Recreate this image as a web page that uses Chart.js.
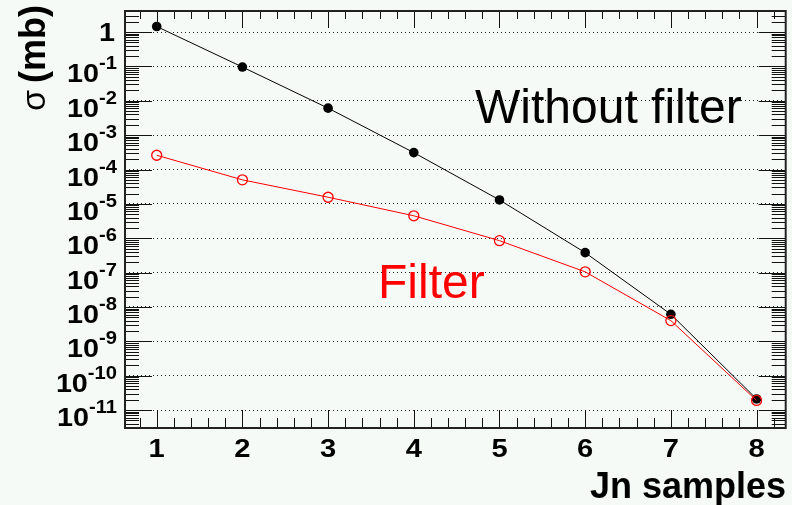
<!DOCTYPE html>
<html>
<head>
<meta charset="utf-8">
<script src="https://cdn.jsdelivr.net/npm/chart.js@4/dist/chart.umd.min.js"></script>
<style>
  html, body { margin: 0; padding: 0; background: #f6faf7; }
  canvas { display: block; }
</style>
</head>
<body>
<canvas id="chart" width="792" height="505"></canvas>
<script>
// Number of Jn samples on the x axis
const samples = [1, 2, 3, 4, 5, 6, 7, 8];
// Cross section in mb, without the filter
const withoutFilter = [1.45, 0.096, 6.1e-3, 3.1e-4, 1.3e-5, 3.8e-7, 6.1e-9, 2.1e-11];
// Cross section in mb, with the filter
const withFilter = [2.6e-4, 5.0e-5, 1.56e-5, 4.5e-6, 8.5e-7, 1.05e-7, 4.0e-9, 1.9e-11];
// Decade exponents labelled on the y axis
const decadeExponents = [0, -1, -2, -3, -4, -5, -6, -7, -8, -9, -10, -11];
// Tick labels of the x axis
const xTickLabels = ['1', '2', '3', '4', '5', '6', '7', '8'];
const seriesNames = ['Without filter', 'Filter'];
const axisTitles = { x: 'Jn samples', ySymbol: '\u03c3', yUnit: '(mb)' };

const FONT = '"Liberation Sans", Arial, Helvetica, sans-serif';

function drawStretched(ctx, text, x, y, font, sx, align) {
  ctx.save();
  ctx.font = font;
  const w = ctx.measureText(text).width * sx;
  let x0 = x;
  if (align === 'right') x0 = x - w;
  else if (align === 'center') x0 = x - w / 2;
  ctx.translate(x0, y);
  ctx.scale(sx, 1);
  ctx.textAlign = 'left';
  ctx.textBaseline = 'alphabetic';
  ctx.fillText(text, 0, 0);
  ctx.restore();
  return w;
}

function measureStretched(ctx, text, font, sx) {
  ctx.save();
  ctx.font = font;
  const w = ctx.measureText(text).width * sx;
  ctx.restore();
  return w;
}

// Page background
const backgroundPlugin = {
  id: 'paperBackground',
  beforeDraw(chart) {
    const ctx = chart.ctx;
    ctx.save();
    ctx.fillStyle = '#f6faf7';
    ctx.fillRect(0, 0, chart.width, chart.height);
    ctx.restore();
  }
};

// Inward tick marks on all four sides, frame, tick labels and titles
const frameAxesPlugin = {
  id: 'frameAxes',
  afterDatasetsDraw(chart) {
    const ctx = chart.ctx;
    const area = chart.chartArea;
    const xs = chart.scales.x;
    const ys = chart.scales.y;
    ctx.save();
    ctx.strokeStyle = '#111';
    ctx.lineWidth = 1;

    // y ticks: decades (long) and 2..9 multiples (short)
    const yMin = ys.min, yMax = ys.max;
    const eLo = Math.floor(Math.log10(yMin));
    const eHi = Math.ceil(Math.log10(yMax));
    ctx.beginPath();
    for (let e = eLo; e <= eHi; e++) {
      for (let m = 1; m <= 9; m++) {
        const v = m * Math.pow(10, e);
        if (v < yMin || v > yMax) continue;
        const py = Math.round(ys.getPixelForValue(v)) + 0.5;
        const len = m === 1 ? 27 : 14;
        ctx.moveTo(area.left, py); ctx.lineTo(area.left + len, py);
        ctx.moveTo(area.right, py); ctx.lineTo(area.right - len, py);
      }
    }
    // x ticks: integers (long) and fifths (short)
    for (let k = Math.ceil(xs.min * 5); k <= Math.floor(xs.max * 5); k++) {
      const v = k / 5;
      const px = Math.round(xs.getPixelForValue(v)) + 0.5;
      const major = k % 5 === 0;
      const len = major ? 18 : 10;
      ctx.moveTo(px, area.bottom); ctx.lineTo(px, area.bottom - len);
      ctx.moveTo(px, area.top); ctx.lineTo(px, area.top + (major ? 17 : 8));
    }
    ctx.stroke();

    // frame
    ctx.lineWidth = 2;
    ctx.strokeStyle = '#222';
    ctx.strokeRect(area.left, area.top, area.right - area.left, area.bottom - area.top);

    // y tick labels
    ctx.fillStyle = '#000';
    const sx = 1.15;
    const mainFont = 'bold 25px ' + FONT;
    const supFont = 'bold 18px ' + FONT;
    const labelRight = area.left - 8;
    decadeExponents.forEach(e => {
      const py = ys.getPixelForValue(Math.pow(10, e));
      if (e === 0) {
        drawStretched(ctx, '1', labelRight - 2, py + 9, mainFont, sx, 'right');
      } else {
        const sup = String(e);
        const wSup = measureStretched(ctx, sup, supFont, 1.12);
        drawStretched(ctx, sup, labelRight, py + 3, supFont, 1.12, 'right');
        drawStretched(ctx, '10', labelRight - wSup, py + 16, mainFont, sx, 'right');
      }
    });

    // x tick labels
    const xFont = 'bold 26px ' + FONT;
    samples.forEach((s, i) => {
      const px = xs.getPixelForValue(s);
      drawStretched(ctx, xTickLabels[i], px, area.bottom + 29, xFont, 1.12, 'center');
    });

    // x title
    const titleFont = 'bold 36px ' + FONT;
    drawStretched(ctx, axisTitles.x, 786, 498, titleFont, 1, 'right');

    // y title, rotated: symbol at the bottom, unit ending near the top
    ctx.save();
    ctx.translate(45, 111);
    ctx.rotate(-Math.PI / 2);
    ctx.textBaseline = 'alphabetic';
    ctx.font = '34px ' + FONT;
    ctx.textAlign = 'left';
    ctx.fillText(axisTitles.ySymbol, 0, 0);
    ctx.font = titleFont;
    ctx.textAlign = 'right';
    ctx.fillText(axisTitles.yUnit, 106, 0);
    ctx.restore();

    // series captions
    ctx.font = '48px ' + FONT;
    ctx.textAlign = 'left';
    ctx.fillStyle = '#000';
    ctx.fillText(seriesNames[0], 475, 123);
    ctx.fillStyle = '#ff0000';
    ctx.fillText(seriesNames[1], 378, 298);

    ctx.restore();
  }
};

const chart = new Chart(document.getElementById('chart'), {
  type: 'line',
  data: {
    datasets: [
      {
        label: seriesNames[1],
        data: samples.map((s, i) => ({ x: s, y: withFilter[i] })),
        borderColor: '#ff0000',
        borderWidth: 1,
        backgroundColor: 'rgba(0,0,0,0)',
        pointStyle: 'circle',
        pointRadius: 5,
        pointBorderWidth: 1.3,
        pointBorderColor: '#ff0000',
        pointBackgroundColor: 'rgba(0,0,0,0)',
        tension: 0
      },
      {
        label: seriesNames[0],
        data: samples.map((s, i) => ({ x: s, y: withoutFilter[i] })),
        borderColor: '#000000',
        borderWidth: 1,
        backgroundColor: '#000000',
        pointStyle: 'circle',
        pointRadius: 4.8,
        pointBorderWidth: 0,
        pointBackgroundColor: '#000000',
        tension: 0
      }
    ]
  },
  options: {
    responsive: false,
    animation: false,
    devicePixelRatio: 1,
    layout: { padding: { top: 11, right: 3, left: 0, bottom: 0 } },
    plugins: {
      legend: { display: false },
      tooltip: { enabled: false },
      title: { display: false }
    },
    scales: {
      x: {
        type: 'linear',
        min: 0.63,
        max: 8.34,
        ticks: { display: false },
        grid: { display: false },
        border: { display: false },
        afterFit(scale) { scale.height = 77; }
      },
      y: {
        type: 'logarithmic',
        min: 3.0e-12,
        max: 4.1,
        afterBuildTicks(scale) {
          scale.ticks = decadeExponents.map(e => ({ value: Math.pow(10, e) }));
        },
        ticks: { display: false },
        grid: { display: true, color: '#222', lineWidth: 1, drawTicks: false },
        border: { display: false, dash: [1, 3] },
        afterFit(scale) { scale.width = 125; }
      }
    }
  },
  plugins: [backgroundPlugin, frameAxesPlugin]
});
</script>
</body>
</html>
